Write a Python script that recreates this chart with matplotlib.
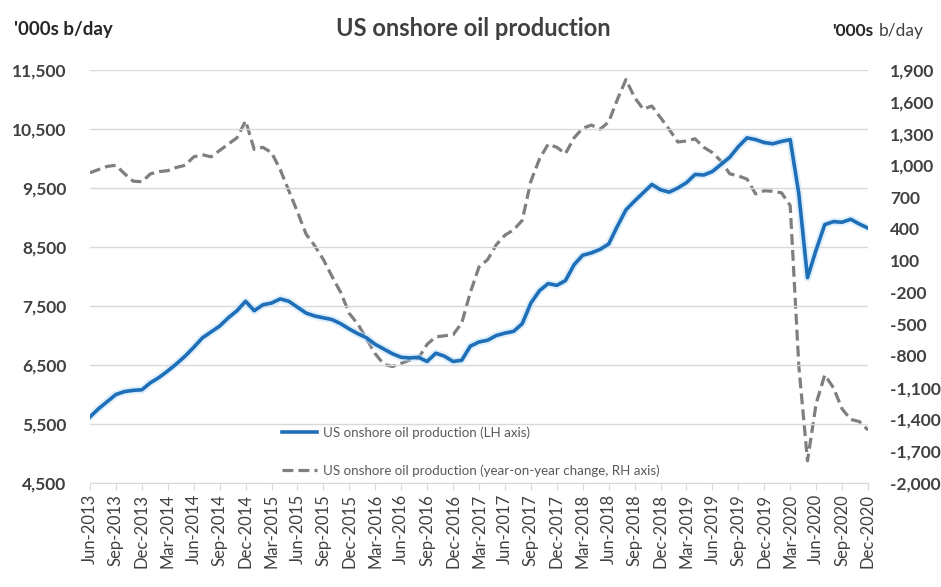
import numpy as np
import pandas as pd
import matplotlib
matplotlib.use('Agg')
import matplotlib.pyplot as plt
from matplotlib.ticker import FuncFormatter

plt.rcParams['font.family'] = ['Lato', 'DejaVu Sans']

# monthly, Jun-2013 .. Dec-2020
months = pd.date_range('2013-06-01', '2020-12-01', freq='MS')

production = [
    5620, 5760, 5880, 6000, 6050, 6070, 6080, 6200, 6290, 6400,
    6520, 6650, 6800, 6960, 7060, 7160, 7300, 7420, 7580, 7420,
    7520, 7550, 7620, 7580, 7480, 7380, 7330, 7300, 7270, 7200,
    7110, 7030, 6960, 6850, 6770, 6690, 6630, 6620, 6630, 6560,
    6700, 6650, 6560, 6580, 6820, 6890, 6920, 7000, 7040, 7070,
    7200, 7550, 7760, 7880, 7850, 7930, 8200, 8360, 8400, 8460,
    8550, 8850, 9130, 9280, 9420, 9560, 9470, 9430, 9500, 9590,
    9730, 9720, 9780, 9900, 10020, 10200, 10350, 10320, 10270, 10250,
    10290, 10320, 9400, 7980, 8450, 8880, 8930, 8920, 8970, 8890,
    8820,
]

yoy_change = [
    930, 960, 990, 1000, 920, 850, 845, 920, 940, 950,
    980, 1000, 1080, 1100, 1080, 1140, 1200, 1260, 1420, 1150,
    1170, 1120, 960, 760, 560, 350, 240, 110, -50, -200,
    -400, -500, -640, -780, -880, -900, -870, -840, -820, -690,
    -620, -610, -600, -490, -200, 40, 110, 250, 340, 390,
    480, 850, 1060, 1200, 1170, 1110, 1260, 1350, 1380, 1340,
    1410, 1620, 1810, 1640, 1530, 1560, 1450, 1340, 1220, 1230,
    1250, 1170, 1120, 1040, 920, 900, 870, 730, 760, 755,
    740, 620, -900, -1790, -1250, -980, -1100, -1300, -1400, -1420,
    -1500,
]

tick_idx = list(range(0, len(months), 3))
tick_labels = [months[i].strftime('%b-%Y') for i in tick_idx]

left_ticks = np.arange(4500, 11501, 1000)
right_ticks = np.arange(-2000, 1901, 300)

dark = '#404040'
blue = '#1f6fb8'
grey = '#7f7f7f'

fig = plt.figure(figsize=(9.41, 5.87), dpi=100)
ax = fig.add_axes([90 / 941, 1 - 483 / 587, 778 / 941, 413 / 587])
ax2 = ax.twinx()

x = np.arange(len(months))
# soft glow under the blue line
ax.plot(x, production, color='#bfe0fb', lw=5.5, alpha=0.5, zorder=2, solid_capstyle='round')
l1, = ax.plot(x, production, color=blue, lw=2.6, zorder=3,
              label='US onshore oil production (LH axis)')
l2, = ax2.plot(x, yoy_change, color=grey, lw=2.3, dashes=(3.4, 1.6),
               label='US onshore oil production (year-on-year change, RH axis)')

ax.set_zorder(ax2.get_zorder() + 1)
ax.patch.set_visible(False)

ax.set_xlim(0, len(months) - 1)
ax.set_ylim(4500, 11500)
ax2.set_ylim(-2000, 1900)
ax.set_yticks(left_ticks)
ax2.set_yticks(right_ticks)

fmt = FuncFormatter(lambda v, p: f'{int(v):,}')
ax.yaxis.set_major_formatter(fmt)
ax2.yaxis.set_major_formatter(fmt)

ax.grid(axis='y', color='#d9d9d9', lw=1)
ax.set_axisbelow(True)

for a in (ax, ax2):
    for s in ('left', 'right', 'top'):
        a.spines[s].set_visible(False)
    a.spines['bottom'].set_color('#d9d9d9')
ax2.spines['bottom'].set_visible(False)

ax.tick_params(axis='y', length=0, pad=17, labelsize=12.5, labelcolor=dark)
ax2.tick_params(axis='y', length=0, pad=16, labelsize=12.5, labelcolor=dark)
for t in ax.get_yticklabels() + ax2.get_yticklabels():
    t.set_fontweight('bold')

ax.set_xticks(tick_idx)
ax.set_xticklabels(tick_labels, rotation=90, fontsize=12, color=dark)
ax.tick_params(axis='x', length=5, color='#d9d9d9', pad=3)

fig.text(473 / 941, 1 - 28 / 587, 'US onshore oil production', ha='center', va='center',
         fontsize=17, fontweight='bold', color=dark)
fig.text(14 / 941, 1 - 30 / 587, "'000s b/day", ha='left', va='center',
         fontsize=13.5, fontweight='bold', color='#262626')
t_unit = fig.text(832 / 941, 1 - 31 / 587, "'000s", ha='left', va='center',
                  fontsize=12.5, fontweight='bold', color='#262626')
ax.annotate('b/day', xy=(1, 0.5), xycoords=t_unit, xytext=(4, 0), textcoords='offset points',
            ha='left', va='center', fontsize=12.5, color=dark, annotation_clip=False)

fig.legend(handles=[l1, l2], loc='upper left', bbox_to_anchor=(270 / 941, 1 - 414 / 587),
           frameon=False, fontsize=9.6, labelcolor='#595959', handlelength=2.6,
           labelspacing=1.95, handletextpad=0.45)

fig.savefig('out.png', dpi=100)
